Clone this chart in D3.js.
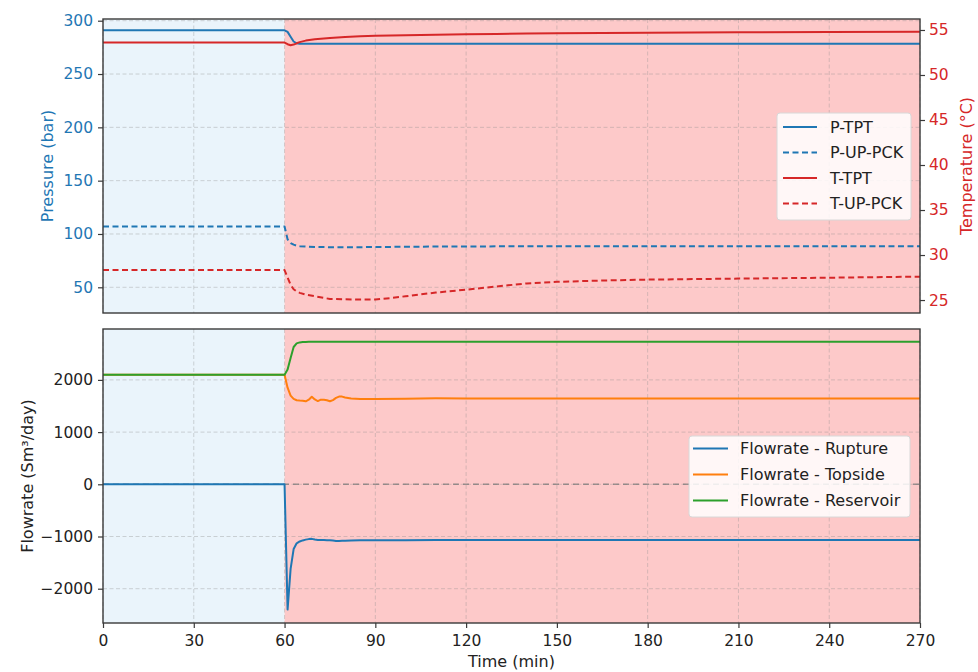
<!DOCTYPE html>
<html>
<head>
<meta charset="utf-8">
<script src="https://cdn.jsdelivr.net/npm/d3@7"></script>
<style>
	body { margin: 0; background: #fff; }
	svg text { font-family: "DejaVu Sans", sans-serif; }
</style>
</head>
<body>
<div id="chart"></div>
<script>
'use strict';

// time axis for the upper (pressure / temperature) panel, minutes
const top_time = [0, 60, 61, 62, 63, 64, 65, 67, 70, 75, 80, 85, 90, 95, 100, 110, 120, 130, 140, 150, 165, 180, 210, 240, 270];

// pressures, bar
const p_tpt = [291, 291, 289.5, 285, 280.5, 278.8, 278.5, 278.4, 278.4, 278.4, 278.4, 278.4, 278.4, 278.4, 278.4, 278.4, 278.4, 278.4, 278.4, 278.4, 278.4, 278.4, 278.4, 278.4, 278.4];
const p_up_pck = [107, 107, 95, 91.5, 90, 89, 88.6, 88.2, 87.9, 87.6, 87.5, 87.6, 87.8, 87.9, 88, 88.2, 88.3, 88.4, 88.4, 88.5, 88.5, 88.5, 88.5, 88.5, 88.5];

// temperatures, degC
const t_tpt = [53.6, 53.6, 53.42, 53.3, 53.38, 53.52, 53.65, 53.82, 53.97, 54.12, 54.22, 54.29, 54.35, 54.39, 54.42, 54.48, 54.52, 54.56, 54.6, 54.63, 54.67, 54.7, 54.74, 54.77, 54.8];
const t_up_pck = [28.33, 28.33, 27.5, 26.7, 26.2, 25.95, 25.8, 25.6, 25.42, 25.12, 25.08, 25.05, 25.07, 25.22, 25.42, 25.83, 26.15, 26.5, 26.85, 27.02, 27.17, 27.27, 27.38, 27.48, 27.6];

// time axis for the lower (flowrate) panel
const flow_time = [0, 60, 61, 62, 63, 64, 65, 66, 67, 68, 69, 70, 71, 72, 73, 74, 75, 76, 77, 78, 79, 80, 82, 85, 90, 100, 110, 120, 150, 180, 210, 240, 270];

// flowrates, Sm3/day
const flow_rupture = [0, 0, -2400, -1620, -1240, -1130, -1095, -1075, -1060, -1050, -1045, -1058, -1065, -1068, -1068, -1070, -1072, -1078, -1085, -1085, -1082, -1080, -1076, -1072, -1070, -1070, -1068, -1068, -1068, -1068, -1068, -1068, -1068];
const flow_topside = [2100, 2100, 1850, 1700, 1635, 1610, 1605, 1602, 1590, 1620, 1678, 1625, 1595, 1622, 1620, 1610, 1590, 1612, 1655, 1680, 1680, 1662, 1645, 1636, 1636, 1640, 1648, 1645, 1645, 1645, 1645, 1645, 1645];
const flow_reservoir = [2100, 2100, 2200, 2420, 2630, 2700, 2718, 2725, 2728, 2730, 2730, 2730, 2730, 2730, 2730, 2730, 2730, 2730, 2730, 2730, 2730, 2730, 2730, 2730, 2730, 2730, 2730, 2730, 2730, 2730, 2730, 2730, 2730];

// phases: before and after the rupture
const phase_start = [0, 60];
const phase_end = [60, 270];
const phase_color = ["#eaf4fb", "#fdc9c9"];

const time_ticks = [0, 30, 60, 90, 120, 150, 180, 210, 240, 270];
const pressure_ticks = [50, 100, 150, 200, 250, 300];
const temp_ticks = [25, 30, 35, 40, 45, 50, 55];
const flow_ticks = [-2000, -1000, 0, 1000, 2000];

const blue = "#1f77b4";
const orange = "#ff7f0e";
const green = "#2ca02c";
const red = "#d62728";

const width = 978;
const height = 672;
const left = 103;
const right = 920;

const top_panel = { top: 19, bottom: 313 };
const bot_panel = { top: 329, bottom: 623 };

// matplotlib style numbers: no thousands separator, real minus sign
const num_fmt = d => (d < 0 ? "\u2212" : "") + Math.abs(d);

function zip(xs, ys)
{
	return xs.map((t, i) => [t, ys[i]]);
}

function draw_phases(g, x, panel)
{
	g.append("g")
		.selectAll("rect")
		.data(phase_start)
		.join("rect")
			.attr("x", (d, i) => x(d))
			.attr("y", panel.top)
			.attr("width", (d, i) => x(phase_end[i]) - x(d))
			.attr("height", panel.bottom - panel.top)
			.attr("fill", (d, i) => phase_color[i]);
}

function draw_grid(g, x, y, yticks, panel)
{
	const grid = g.append("g")
		.attr("stroke", "#8c8c8c")
		.attr("stroke-opacity", 0.45)
		.attr("stroke-width", 0.8)
		.attr("stroke-dasharray", "4,2.5");

	grid.selectAll("line.v")
		.data(time_ticks)
		.join("line")
			.attr("class", "v")
			.attr("x1", d => x(d)).attr("x2", d => x(d))
			.attr("y1", panel.top).attr("y2", panel.bottom);

	grid.selectAll("line.h")
		.data(yticks)
		.join("line")
			.attr("class", "h")
			.attr("x1", left).attr("x2", right)
			.attr("y1", d => y(d)).attr("y2", d => y(d));
}

function draw_frame(g, panel)
{
	g.append("rect")
		.attr("x", left)
		.attr("y", panel.top)
		.attr("width", right - left)
		.attr("height", panel.bottom - panel.top)
		.attr("fill", "none")
		.attr("stroke", "#3a3a3a")
		.attr("stroke-width", 1.4);
}

function style_axis(g, color)
{
	g.select(".domain").remove();
	g.selectAll(".tick line").attr("stroke", "#3a3a3a").attr("stroke-width", 1.2);
	g.selectAll(".tick text")
		.attr("fill", color)
		.style("font-size", "15.5px");
}

function draw_legend(g, items, box)
{
	const lg = g.append("g");

	lg.append("rect")
		.attr("x", box.x)
		.attr("y", box.y)
		.attr("width", box.w)
		.attr("height", box.h)
		.attr("rx", 3)
		.attr("fill", "#fff")
		.attr("fill-opacity", 0.85)
		.attr("stroke", "#d8d8d8");

	const row = lg.selectAll("g.row")
		.data(items)
		.join("g")
			.attr("class", "row")
			.attr("transform", (d, i) => `translate(0,${box.y0 + i * box.step})`);

	row.append("line")
		.attr("x1", box.lx0).attr("x2", box.lx1)
		.attr("y1", 0).attr("y2", 0)
		.attr("stroke", d => d.color)
		.attr("stroke-width", 2)
		.attr("stroke-dasharray", d => d.dash ? "6,3.5" : null);

	row.append("text")
		.attr("x", box.tx)
		.attr("y", 0)
		.attr("dy", "0.36em")
		.style("font-size", "16px")
		.attr("fill", "#222")
		.text(d => d.name);
}

window.onload = function()
{
	const svg = d3.select("#chart")
		.append("svg")
			.attr("width", width)
			.attr("height", height);

	const x = d3.scaleLinear()
		.domain([0, 270])
		.range([left, right]);

	// ---------- upper panel ----------
	const y_p = d3.scaleLinear()
		.domain([25.9, 301.6])
		.range([top_panel.bottom, top_panel.top]);

	const y_t = d3.scaleLinear()
		.domain([23.56, 56.22])
		.range([top_panel.bottom, top_panel.top]);

	const up = svg.append("g").attr("class", "upper");

	draw_phases(up, x, top_panel);
	draw_grid(up, x, y_p, pressure_ticks, top_panel);

	const p_line = d3.line().x(d => x(d[0])).y(d => y_p(d[1]));
	const t_line = d3.line().x(d => x(d[0])).y(d => y_t(d[1]));

	const top_series = [
		{ name: "P-TPT", data: zip(top_time, p_tpt), line: p_line, color: blue, dash: false },
		{ name: "P-UP-PCK", data: zip(top_time, p_up_pck), line: p_line, color: blue, dash: true },
		{ name: "T-TPT", data: zip(top_time, t_tpt), line: t_line, color: red, dash: false },
		{ name: "T-UP-PCK", data: zip(top_time, t_up_pck), line: t_line, color: red, dash: true }
	];

	up.append("g")
		.selectAll("path")
		.data(top_series)
		.join("path")
			.attr("d", d => d.line(d.data))
			.attr("fill", "none")
			.attr("stroke", d => d.color)
			.attr("stroke-width", 2)
			.attr("stroke-linejoin", "round")
			.attr("stroke-dasharray", d => d.dash ? "6,3.5" : null);

	up.append("g")
		.attr("transform", `translate(${left},0)`)
		.call(d3.axisLeft(y_p).tickValues(pressure_ticks).tickFormat(num_fmt).tickSize(5).tickPadding(5))
		.call(g => style_axis(g, blue));

	up.append("g")
		.attr("transform", `translate(${right},0)`)
		.call(d3.axisRight(y_t).tickValues(temp_ticks).tickFormat(num_fmt).tickSize(5).tickPadding(4))
		.call(g => style_axis(g, red));

	draw_legend(up, top_series, {
		x: 777, y: 113, w: 134, h: 107,
		y0: 127, step: 25.5,
		lx0: 783, lx1: 817, tx: 830 });

	draw_frame(up, top_panel);

	up.append("text")
		.attr("transform", `translate(53,${(top_panel.top + top_panel.bottom) / 2}) rotate(-90)`)
		.attr("text-anchor", "middle")
		.style("font-size", "16px")
		.attr("fill", blue)
		.text("Pressure (bar)");

	up.append("text")
		.attr("transform", `translate(972,${(top_panel.top + top_panel.bottom) / 2}) rotate(-90)`)
		.attr("text-anchor", "middle")
		.style("font-size", "16px")
		.attr("fill", red)
		.text("Temperature (°C)");

	// ---------- lower panel ----------
	const y_f = d3.scaleLinear()
		.domain([-2657, 2975])
		.range([bot_panel.bottom, bot_panel.top]);

	const lo = svg.append("g").attr("class", "lower");

	draw_phases(lo, x, bot_panel);
	draw_grid(lo, x, y_f, flow_ticks, bot_panel);

	// zero reference
	lo.append("line")
		.attr("x1", left).attr("x2", right)
		.attr("y1", y_f(0)).attr("y2", y_f(0))
		.attr("stroke", "#7a7a7a")
		.attr("stroke-opacity", 0.75)
		.attr("stroke-width", 1.5)
		.attr("stroke-dasharray", "6,4");

	const f_line = d3.line().x(d => x(d[0])).y(d => y_f(d[1]));

	const flow_series = [
		{ name: "Flowrate - Rupture", data: zip(flow_time, flow_rupture), color: blue },
		{ name: "Flowrate - Topside", data: zip(flow_time, flow_topside), color: orange },
		{ name: "Flowrate - Reservoir", data: zip(flow_time, flow_reservoir), color: green }
	];

	lo.append("g")
		.selectAll("path")
		.data(flow_series)
		.join("path")
			.attr("d", d => f_line(d.data))
			.attr("fill", "none")
			.attr("stroke", d => d.color)
			.attr("stroke-width", 2)
			.attr("stroke-linejoin", "round");

	lo.append("g")
		.attr("transform", `translate(${left},0)`)
		.call(d3.axisLeft(y_f).tickValues(flow_ticks).tickFormat(num_fmt).tickSize(5).tickPadding(5))
		.call(g => style_axis(g, "#222"));

	lo.append("g")
		.attr("transform", `translate(0,${bot_panel.bottom})`)
		.call(d3.axisBottom(x).tickValues(time_ticks).tickFormat(num_fmt).tickSize(5).tickPadding(7))
		.call(g => style_axis(g, "#222"));

	draw_legend(lo, flow_series, {
		x: 689, y: 436, w: 221, h: 81,
		y0: 448.5, step: 26,
		lx0: 693, lx1: 728, tx: 740 });

	draw_frame(lo, bot_panel);

	lo.append("text")
		.attr("transform", `translate(33,${(bot_panel.top + bot_panel.bottom) / 2}) rotate(-90)`)
		.attr("text-anchor", "middle")
		.style("font-size", "16px")
		.attr("fill", "#222")
		.text("Flowrate (Sm³/day)");

	lo.append("text")
		.attr("x", (left + right) / 2)
		.attr("y", 667)
		.attr("text-anchor", "middle")
		.style("font-size", "16px")
		.attr("fill", "#222")
		.text("Time (min)");

	console.log("drawn");
}
</script>
</body>
</html>
